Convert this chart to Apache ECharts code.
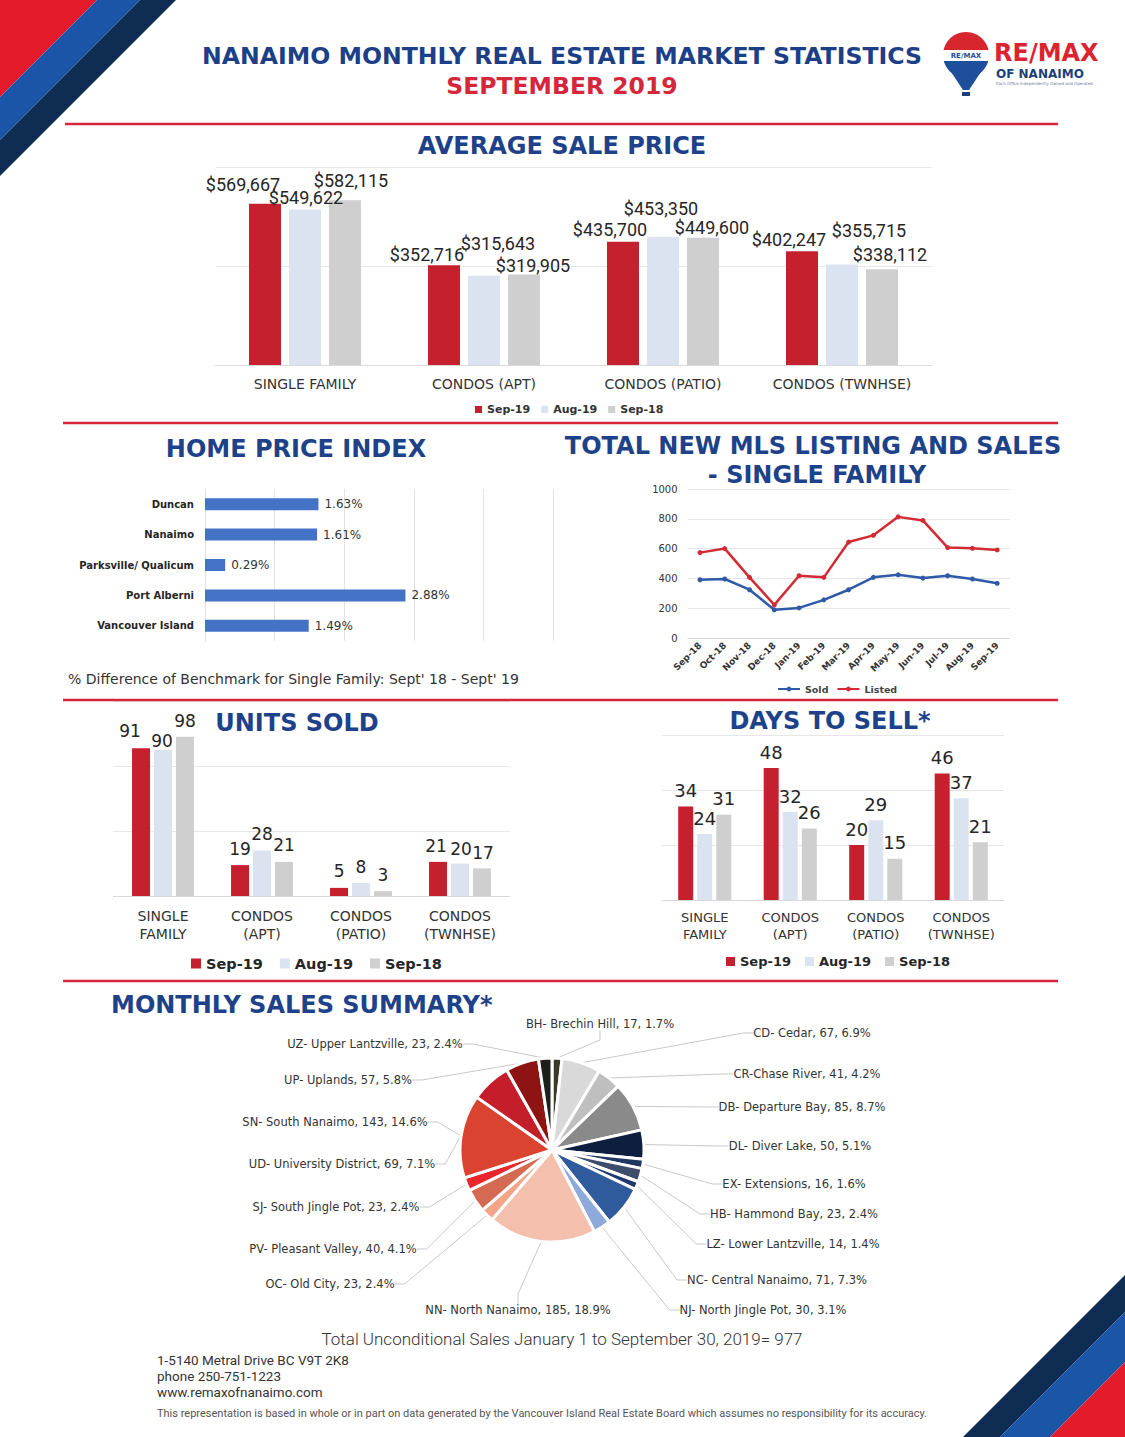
<!DOCTYPE html>
<html><head><meta charset="utf-8">
<script src="https://cdn.jsdelivr.net/npm/echarts@6/dist/echarts.min.js"></script>
<style>html,body{margin:0;padding:0;background:#fff}#c{width:1125px;height:1437px}</style>
</head><body><div id="c"></div>
<script>
// ---------- DATA ----------
const propertyTypes = ['SINGLE FAMILY', 'CONDOS (APT)', 'CONDOS (PATIO)', 'CONDOS (TWNHSE)'];
const periods = ['Sep-19', 'Aug-19', 'Sep-18'];

const avgPriceSep19 = [569667, 352716, 435700, 402247];
const avgPriceAug19 = [549622, 315643, 453350, 355715];
const avgPriceSep18 = [582115, 319905, 449600, 338112];

const hpiRegions = ['Duncan', 'Nanaimo', 'Parksville/ Qualicum', 'Port Alberni', 'Vancouver Island'];
const hpiChange = [1.63, 1.61, 0.29, 2.88, 1.49];

const mlsMonths = ['Sep-18', 'Oct-18', 'Nov-18', 'Dec-18', 'Jan-19', 'Feb-19', 'Mar-19', 'Apr-19', 'May-19', 'Jun-19', 'Jul-19', 'Aug-19', 'Sep-19'];
const mlsSold = [391, 396, 324, 189, 202, 256, 324, 407, 424, 402, 418, 396, 367];
const mlsListed = [573, 600, 407, 222, 418, 407, 644, 689, 813, 789, 607, 602, 591];

const unitsSep19 = [91, 19, 5, 21];
const unitsAug19 = [90, 28, 8, 20];
const unitsSep18 = [98, 21, 3, 17];

const daysSep19 = [34, 48, 20, 46];
const daysAug19 = [24, 32, 29, 37];
const daysSep18 = [31, 26, 15, 21];

const areaNames = ['BH- Brechin Hill', 'CD- Cedar', 'CR-Chase River', 'DB- Departure Bay', 'DL- Diver Lake',
  'EX- Extensions', 'HB- Hammond Bay', 'LZ- Lower Lantzville', 'NC- Central Nanaimo', 'NJ- North Jingle Pot',
  'NN- North Nanaimo', 'OC- Old City', 'PV- Pleasant Valley', 'SJ- South Jingle Pot', 'SN- South Nanaimo',
  'UD- University District', 'UP- Uplands', 'UZ- Upper Lantzville'];
const areaSales = [17, 67, 41, 85, 50, 16, 23, 14, 71, 30, 185, 23, 40, 23, 143, 69, 57, 23];
const totalSalesYTD = 977;

// ---------- STYLE / LAYOUT CONFIG ----------
const C_SEP19 = '#c4202e', C_AUG19 = '#dce3f0', C_SEP18 = '#cfcfcf';
const NAVY = '#1d4289', RED = '#d62639';
const FONT = 'DejaVu Sans';
const periodColors = [C_SEP19, C_AUG19, C_SEP18];

const avgLabelOffsets = [
  [[-22, -5], [-17, 3], [-13, 2], [-13, 2]],
  [[1, 2], [14, -18], [-2, -14], [27, -20]],
  [[6, -6], [9, 5], [9, 4], [8, -1]]
];
const unitLabelOffsets = [
  [[-11, -1], [0, 0], [0, 0], [-2, 1]],
  [[-1, 8], [0, 0], [0, 0], [1, 2]],
  [[0, 1], [0, 0], [0, 0], [1, 1]]
];
const pieColors = ['#3b3a26', '#d9d9d9', '#bfbfbf', '#8a8a8a', '#0e1e3f', '#1f3763', '#3e4d6c', '#1e3a6e',
  '#2f5b9c', '#8eaadb', '#f5bfae', '#f3a587', '#d56a52', '#e8262b', '#d9432f', '#c41e2a', '#8e1414', '#1c1f1a'];
const pieLabelCenters = [[600, 1024], [812, 1033], [807, 1074], [802, 1107], [800, 1146], [794, 1184], [794, 1214],
  [793, 1244], [777, 1280], [763, 1310], [518, 1310], [330, 1284], [333, 1249], [336, 1207], [335, 1122],
  [342, 1164], [348, 1080], [375, 1044]];

// ---------- BUILD ----------
const chart = echarts.init(document.getElementById('c'), null, { renderer: 'svg', width: 1125, height: 1437 });

function txt(text, x, y, font, fill, align) {
  return {
    type: 'text', z: 10, silent: true,
    style: { text, x, y, font, fill, align: align || 'center', textAlign: align || 'center',
      verticalAlign: 'middle', textVerticalAlign: 'middle' }
  };
}
function hline(y, x1, x2) {
  return { type: 'line', z: 20, silent: true, shape: { x1, y1: y, x2, y2: y },
    style: { stroke: '#d8273a', lineWidth: 2.5 } };
}

const avgSeriesVals = [avgPriceSep19, avgPriceAug19, avgPriceSep18];
const unitSeriesVals = [unitsSep19, unitsAug19, unitsSep18];
const daySeriesVals = [daysSep19, daysAug19, daysSep18];

const series = [];
avgSeriesVals.forEach((vals, si) => {
  series.push({
    type: 'bar', name: periods[si], xAxisIndex: 0, yAxisIndex: 0,
    barWidth: 32, barGap: '25%', itemStyle: { color: periodColors[si] },
    data: vals.map((v, i) => ({ value: v, label: { offset: avgLabelOffsets[si][i] } })),
    label: { show: true, position: 'top', distance: 5, fontFamily: 'Roboto', fontSize: 18, color: '#262626',
      formatter: p => '$' + p.value.toLocaleString('en-US') }
  });
});
series.push({
  type: 'bar', name: 'HPI', xAxisIndex: 1, yAxisIndex: 1, barWidth: 12,
  itemStyle: { color: '#4472c4' }, data: hpiChange,
  label: { show: true, position: 'right', distance: 6, fontFamily: FONT, fontSize: 12, color: '#333',
    formatter: p => p.value.toFixed(2) + '%' }
});
series.push({
  type: 'line', name: 'Sold', xAxisIndex: 2, yAxisIndex: 2, data: mlsSold,
  symbol: 'circle', symbolSize: 5, lineStyle: { width: 2.5, color: '#2e5aa8' }, itemStyle: { color: '#2e5aa8' }
});
series.push({
  type: 'line', name: 'Listed', xAxisIndex: 2, yAxisIndex: 2, data: mlsListed,
  symbol: 'circle', symbolSize: 5, lineStyle: { width: 2.5, color: '#d42a33' }, itemStyle: { color: '#d42a33' }
});
unitSeriesVals.forEach((vals, si) => {
  series.push({
    type: 'bar', name: periods[si], xAxisIndex: 3, yAxisIndex: 3,
    barWidth: 18, barGap: '22%', itemStyle: { color: periodColors[si] },
    data: vals.map((v, i) => ({ value: v, label: { offset: unitLabelOffsets[si][i] } })),
    label: { show: true, position: 'top', distance: 8, fontFamily: FONT, fontSize: 17, color: '#262626' }
  });
});
daySeriesVals.forEach((vals, si) => {
  series.push({
    type: 'bar', name: periods[si], xAxisIndex: 4, yAxisIndex: 4,
    barWidth: 15, barGap: '27%', itemStyle: { color: periodColors[si] }, data: vals,
    label: { show: true, position: 'top', distance: 7, fontFamily: FONT, fontSize: 18, color: '#262626' }
  });
});
const areaTotal = areaSales.reduce((a, b) => a + b, 0);
series.push({
  type: 'pie', name: 'Monthly Sales', center: [552, 1150], radius: 92, startAngle: 90, clockwise: true,
  avoidLabelOverlap: false,
  data: areaNames.map((n, i) => ({ name: n, value: areaSales[i], itemStyle: { color: pieColors[i] } })),
  itemStyle: { borderColor: '#fff', borderWidth: 3 },
  label: { show: true, fontFamily: FONT, fontSize: 11.5, color: '#333',
    formatter: p => p.name + ', ' + p.value + ', ' + (p.value / areaTotal * 100).toFixed(1) + '%' },
  labelLine: { show: true, length: 10, length2: 10, lineStyle: { color: '#c9c9c9', width: 1 } },
  labelLayout: params => {
    const c = pieLabelCenters[params.dataIndex];
    return { x: c[0], y: c[1], align: 'center', verticalAlign: 'middle' };
  },
  emphasis: { disabled: true }
});

const catAxisLabel = { fontFamily: FONT, color: '#333', interval: 0 };
const balloonFill = { type: 'linear', x: 0, y: 0, x2: 0, y2: 1, colorStops: [
  { offset: 0, color: '#d8262f' }, { offset: 0.4, color: '#d8262f' }, { offset: 0.4, color: '#ffffff' },
  { offset: 0.62, color: '#ffffff' }, { offset: 0.62, color: '#1d4f9c' }, { offset: 1, color: '#1d4f9c' }] };

const option = {
  backgroundColor: '#ffffff',
  animation: false,
  textStyle: { fontFamily: FONT },
  grid: [
    { left: 215.5, top: 167, width: 716, height: 198 },
    { left: 205, top: 489, width: 348, height: 152 },
    { left: 687.6, top: 489, width: 322, height: 149 },
    { left: 113.5, top: 701, width: 396, height: 195 },
    { left: 662, top: 735, width: 342, height: 165 }
  ],
  xAxis: [
    { type: 'category', gridIndex: 0, data: propertyTypes, axisTick: { show: false },
      axisLine: { lineStyle: { color: '#d9d9d9' } },
      axisLabel: Object.assign({ fontSize: 14, margin: 12 }, catAxisLabel) },
    { type: 'value', gridIndex: 1, min: 0, max: 5, interval: 1, axisLabel: { show: false },
      splitLine: { lineStyle: { color: '#e3e3e3' } } },
    { type: 'category', gridIndex: 2, data: mlsMonths, axisTick: { show: false },
      axisLine: { lineStyle: { color: '#d9d9d9' } },
      axisLabel: { fontFamily: FONT, fontSize: 9, fontWeight: 'bold', color: '#333', rotate: 45, margin: 6, interval: 0 } },
    { type: 'category', gridIndex: 3, data: propertyTypes, axisTick: { show: false },
      axisLine: { lineStyle: { color: '#d9d9d9' } },
      axisLabel: Object.assign({ fontSize: 14, margin: 11, lineHeight: 18, formatter: v => v.replace(' ', '\n') }, catAxisLabel) },
    { type: 'category', gridIndex: 4, data: propertyTypes, axisTick: { show: false },
      axisLine: { lineStyle: { color: '#d9d9d9' } },
      axisLabel: Object.assign({ fontSize: 13, margin: 9, lineHeight: 17, formatter: v => v.replace(' ', '\n') }, catAxisLabel) }
  ],
  yAxis: [
    { type: 'value', gridIndex: 0, min: 0, max: 700000, interval: 350000, axisLabel: { show: false },
      splitLine: { lineStyle: { color: '#e6e6e6' } } },
    { type: 'category', gridIndex: 1, data: hpiRegions, inverse: true, axisTick: { show: false },
      axisLine: { lineStyle: { color: '#e0e0e0' } },
      axisLabel: { fontFamily: FONT, fontSize: 10, fontWeight: 'bold', color: '#262626', margin: 11, interval: 0 } },
    { type: 'value', gridIndex: 2, min: 0, max: 1000, interval: 200,
      axisLabel: { fontFamily: FONT, fontSize: 10, color: '#333', margin: 10, formatter: v => String(v) },
      splitLine: { lineStyle: { color: '#e6e6e6' } } },
    { type: 'value', gridIndex: 3, min: 0, max: 120, interval: 40, axisLabel: { show: false },
      splitLine: { lineStyle: { color: '#e6e6e6' } } },
    { type: 'value', gridIndex: 4, min: 0, max: 60, interval: 20, axisLabel: { show: false },
      splitLine: { lineStyle: { color: '#e6e6e6' } } }
  ],
  legend: [
    { data: periods, left: 470, top: 399, itemWidth: 7, itemHeight: 7, itemGap: 11, icon: 'rect',
      textStyle: { fontFamily: FONT, fontSize: 11, fontWeight: 'bold', color: '#333' } },
    { data: ['Sold', 'Listed'], left: 772, top: 679, itemWidth: 22, itemHeight: 6, itemGap: 8,
      textStyle: { fontFamily: FONT, fontSize: 9.5, fontWeight: 'bold', color: '#444' } },
    { data: periods, left: 186, top: 951, itemWidth: 10, itemHeight: 10, itemGap: 17, icon: 'rect',
      textStyle: { fontFamily: FONT, fontSize: 14.5, fontWeight: 'bold', color: '#262626' } },
    { data: periods, left: 721, top: 950, itemWidth: 9, itemHeight: 9, itemGap: 14, icon: 'rect',
      textStyle: { fontFamily: FONT, fontSize: 13, fontWeight: 'bold', color: '#262626' } }
  ],
  series,
  graphic: [
    // corner stripes
    { type: 'polygon', z: 1, silent: true, shape: { points: [[0, 0], [97, 0], [0, 97]] }, style: { fill: '#e31b2b' } },
    { type: 'polygon', z: 1, silent: true, shape: { points: [[97, 0], [140, 0], [0, 140], [0, 97]] }, style: { fill: '#1b55a8' } },
    { type: 'polygon', z: 1, silent: true, shape: { points: [[140, 0], [176, 0], [0, 176], [0, 140]] }, style: { fill: '#0f2d52' } },
    { type: 'polygon', z: 1, silent: true, shape: { points: [[1125, 1275], [1125, 1312], [1000, 1437], [963, 1437]] }, style: { fill: '#0f2d52' } },
    { type: 'polygon', z: 1, silent: true, shape: { points: [[1125, 1312], [1125, 1362], [1050, 1437], [1000, 1437]] }, style: { fill: '#1b55a8' } },
    { type: 'polygon', z: 1, silent: true, shape: { points: [[1125, 1362], [1125, 1437], [1050, 1437]] }, style: { fill: '#e31b2b' } },
    // logo balloon
    { type: 'polygon', z: 4, silent: true, shape: { points: [[944.5, 62], [987.5, 62], [969, 90], [963, 90]] }, style: { fill: '#1d4f9c' } },
    { type: 'circle', z: 5, silent: true, shape: { cx: 966, cy: 55, r: 23 }, style: { fill: balloonFill } },
    { type: 'rect', z: 5, silent: true, shape: { x: 962, y: 92, width: 8, height: 4 }, style: { fill: '#1d3f7a' } },
    txt('RE/MAX', 966, 56, 'bold 7px DejaVu Sans', '#1d4f9c'),
    txt('RE/MAX', 994, 53, 'bold 24px DejaVu Sans', '#dc2430', 'left'),
    txt('OF NANAIMO', 996, 73.5, 'bold 12px DejaVu Sans', '#1d3f7a', 'left'),
    txt('Each Office Independently Owned and Operated', 996, 83, '4px DejaVu Sans', '#6a7a9a', 'left'),
    // header text
    txt('NANAIMO MONTHLY REAL ESTATE MARKET STATISTICS', 562, 56, 'bold 23.6px DejaVu Sans', '#1c3f87'),
    txt('SEPTEMBER 2019', 562, 86, 'bold 23.5px DejaVu Sans', RED),
    // separators
    hline(124, 65, 1058), hline(423, 63, 1058), hline(700, 63, 1058), hline(981, 63, 1058),
    // section headings
    txt('AVERAGE SALE PRICE', 562, 146, 'bold 24px DejaVu Sans', NAVY),
    txt('HOME PRICE INDEX', 296, 449, 'bold 24px DejaVu Sans', NAVY),
    txt('TOTAL NEW MLS LISTING AND SALES', 813, 446, 'bold 24px DejaVu Sans', NAVY),
    txt('- SINGLE FAMILY', 817, 475, 'bold 24px DejaVu Sans', NAVY),
    txt('UNITS SOLD', 297, 723, 'bold 24px DejaVu Sans', NAVY),
    txt('DAYS TO SELL*', 830, 721, 'bold 24px DejaVu Sans', NAVY),
    txt('MONTHLY SALES SUMMARY*', 111, 1005, 'bold 24px DejaVu Sans', NAVY, 'left'),
    txt("% Difference of Benchmark for Single Family: Sept' 18 - Sept' 19", 68, 679, '14px DejaVu Sans', '#333', 'left'),
    // footer
    txt('Total Unconditional Sales January 1 to September 30, 2019= ' + totalSalesYTD, 562, 1339, '300 17px Roboto', '#333'),
    txt('1-5140 Metral Drive BC V9T 2K8', 157, 1360, '13.5px Roboto', '#333', 'left'),
    txt('phone 250-751-1223', 157, 1376, '13.5px Roboto', '#333', 'left'),
    txt('www.remaxofnanaimo.com', 157, 1392, '13.5px Roboto', '#333', 'left'),
    txt('This representation is based in whole or in part on data generated by the Vancouver Island Real Estate Board which assumes no responsibility for its accuracy.',
      157, 1413, '11px Roboto', '#555', 'left')
  ]
};
chart.setOption(option);
</script>
</body></html>
